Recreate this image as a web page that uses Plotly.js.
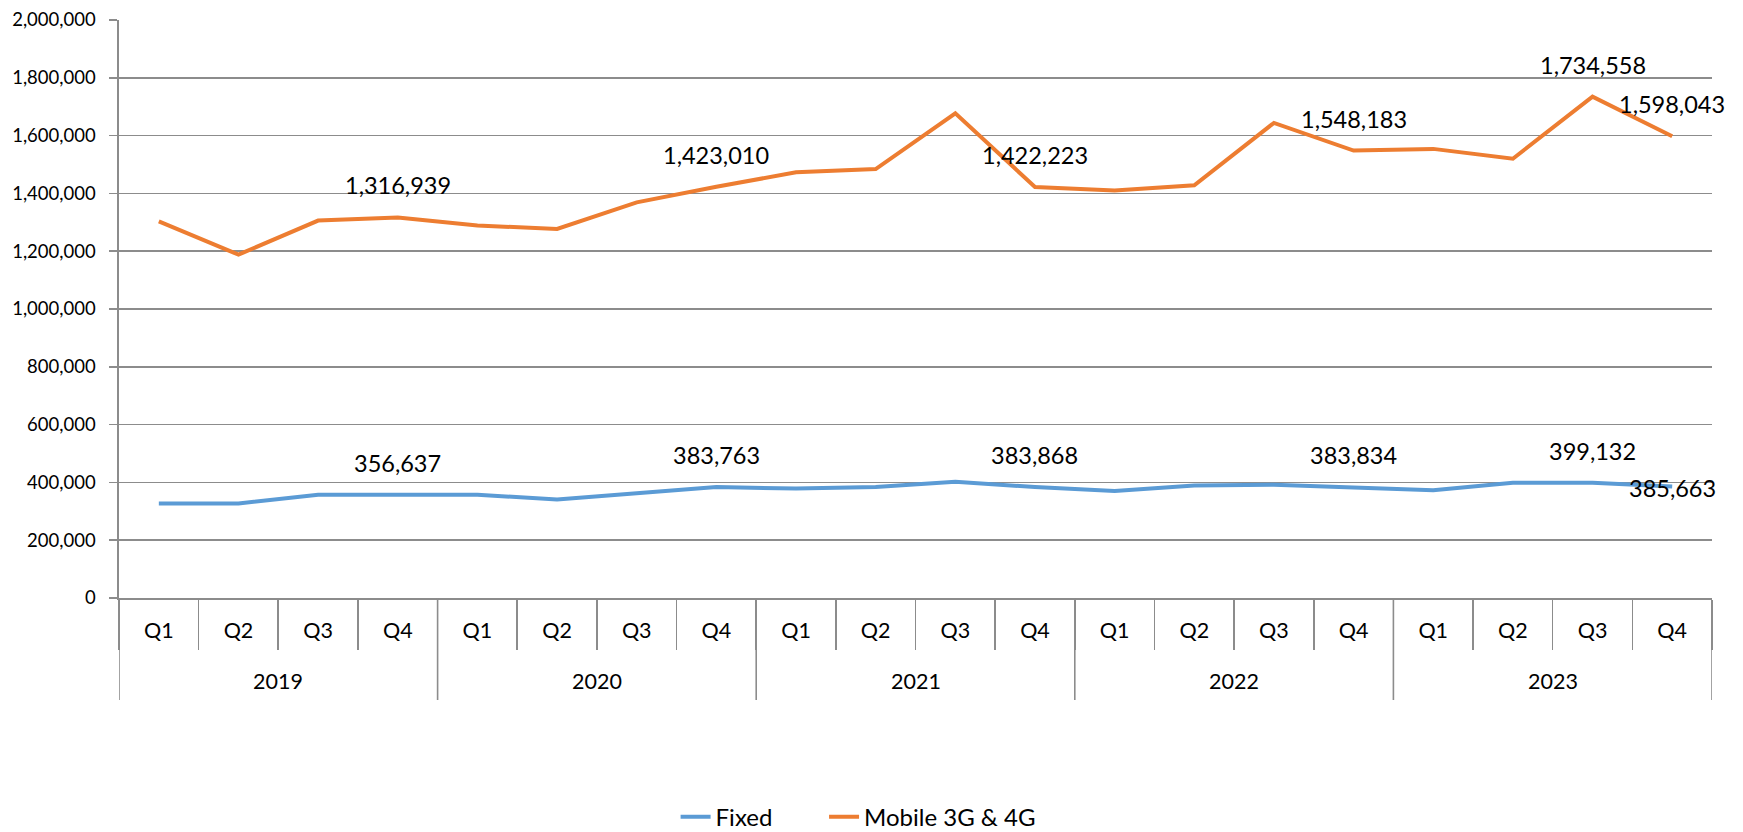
<!DOCTYPE html>
<html>
<head>
<meta charset="utf-8">
<script src="https://cdn.plot.ly/plotly-3.0.1.min.js"></script>
<style>
html,body{margin:0;padding:0;background:#fff;}
#chart{width:1743px;height:832px;}
</style>
</head>
<body>
<div id="chart"></div>
<script>
// ---- data ----
const years = ['2019', '2020', '2021', '2022', '2023'];
const quarters = ['Q1', 'Q2', 'Q3', 'Q4'];
const fixedValues = [327000, 327000, 357000, 356637, 357000, 341000, 361000, 383763, 379000, 384000,
                     402000, 383868, 370000, 389000, 392000, 383834, 373000, 399000, 399132, 385663];
const mobileValues = [1303000, 1188000, 1306000, 1316939, 1289000, 1277000, 1369000, 1423010, 1473000, 1484000,
                      1677000, 1422223, 1410000, 1428000, 1644000, 1548183, 1554000, 1520000, 1734558, 1598043];
const labelledPoints = [3, 7, 11, 15, 18, 19];
const seriesNames = ['Fixed', 'Mobile 3G & 4G'];
const seriesColors = ['#5B9BD5', '#ED7D31'];

// ---- build ----
const xKeys = [], xText = [];
years.forEach(y => quarters.forEach(q => { xKeys.push(y + ' ' + q); xText.push(q); }));
const FONT = 'Lato, "Open Sans", sans-serif';
const fmt = v => v.toLocaleString('en-US');
const grid = '#8c8c8c';
const legendIds = ['legend', 'legend2'];

const traces = [fixedValues, mobileValues].map((vals, k) => ({
  type: 'scatter', mode: 'lines',
  x: xKeys, y: vals,
  name: seriesNames[k],
  legend: legendIds[k],
  line: {color: seriesColors[k], width: 4},
  hoverinfo: 'skip'
}));

const annotations = [];
[fixedValues, mobileValues].forEach((vals, k) => {
  labelledPoints.forEach(i => {
    const centred = (k === 0 && i === vals.length - 1);
    annotations.push({
      x: i, y: vals[i], xref: 'x', yref: 'y',
      text: fmt(vals[i]), showarrow: false,
      yshift: centred ? -1 : 32,
      font: {family: FONT, size: 23.5, color: '#000'}
    });
  });
});

// year group labels and dividers on the category axis
const nQ = quarters.length;
const shapes = [];
years.forEach((y, g) => {
  annotations.push({
    x: g * nQ + (nQ - 1) / 2, xref: 'x', y: -0.1436, yref: 'paper', yanchor: 'middle',
    text: y, showarrow: false,
    font: {family: FONT, size: 21.5, color: '#000'}
  });
});
for (let g = 0; g <= years.length; g++) {
  shapes.push({type: 'line', xref: 'x', yref: 'paper',
    x0: g * nQ - 0.5, x1: g * nQ - 0.5, y0: 0, y1: -0.1765,
    line: {color: grid, width: 1.6}});
}

const legendStyle = {orientation: 'h', xanchor: 'left', y: -0.379, yanchor: 'middle',
  font: {family: FONT, size: 24, color: '#000'}, itemwidth: 30, bgcolor: 'rgba(0,0,0,0)'};

const layout = {
  width: 1743, height: 832,
  margin: {l: 119, r: 31, t: 20, b: 234, autoexpand: false},
  paper_bgcolor: '#fff', plot_bgcolor: '#fff',
  showlegend: true,
  legend: Object.assign({}, legendStyle, {x: 0.3494}),
  legend2: Object.assign({}, legendStyle, {x: 0.4426}),
  xaxis: {
    type: 'category', range: [-0.5, xKeys.length - 0.5],
    tickvals: xKeys, ticktext: xText,
    showgrid: false, zeroline: false, automargin: false,
    showline: true, linecolor: grid, linewidth: 1.6,
    ticks: 'outside', tickson: 'boundaries', ticklen: 50, tickcolor: grid, tickwidth: 1.6,
    ticklabelstandoff: 13,
    tickfont: {family: FONT, size: 21.5, color: '#000'}
  },
  yaxis: {
    range: [0, 2000000], dtick: 200000, tickformat: ',d',
    showgrid: true, gridcolor: grid, gridwidth: 1.6,
    zeroline: false, automargin: false,
    showline: true, linecolor: grid, linewidth: 1.6,
    ticks: 'outside', ticklen: 8, tickcolor: grid, tickwidth: 1.6,
    ticklabelstandoff: 10,
    tickfont: {family: FONT, size: 18.5, color: '#000'}
  },
  shapes: shapes,
  annotations: annotations
};

Plotly.newPlot('chart', traces, layout, {displayModeBar: false, staticPlot: true});
</script>
</body>
</html>
